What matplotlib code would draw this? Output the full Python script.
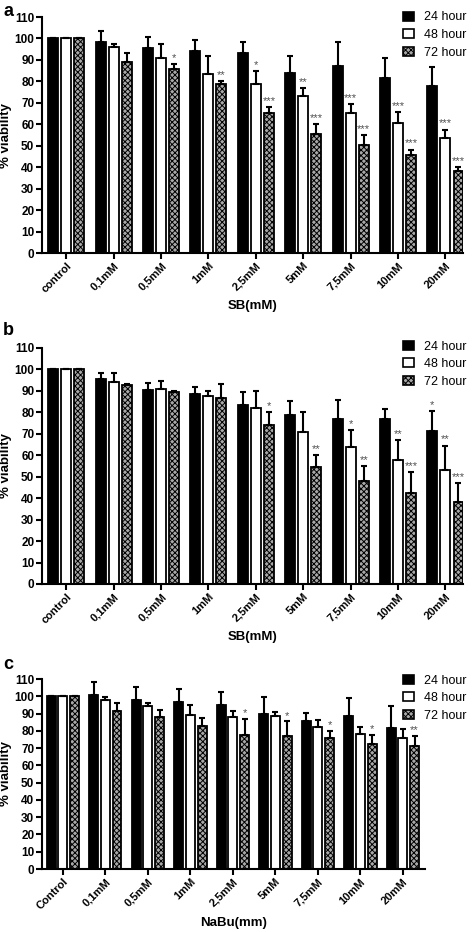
import numpy as np
import matplotlib
matplotlib.use("Agg")
import matplotlib.pyplot as plt
from matplotlib.patches import Patch

plt.rcParams['font.family'] = ['Liberation Sans', 'DejaVu Sans']
plt.rcParams['hatch.linewidth'] = 0.7

sb_labels = ['control', '0,1mM', '0,5mM', '1mM', '2,5mM', '5mM', '7,5mM', '10mM', '20mM']
nabu_labels = ['Control', '0,1mM', '0,5mM', '1mM', '2,5mM', '5mM', '7,5mM', '10mM', '20mM']
series_names = ['24 hour', '48 hour', '72 hour']

# panel a (SB)
a_24 = [100, 98.4, 95.7, 94.3, 93.4, 83.9, 87.2, 81.7, 78.0]
a_24_err = [0, 5.0, 4.9, 5.1, 5.1, 8.1, 11.3, 9.3, 8.6]
a_48 = [100, 95.8, 90.7, 83.3, 78.6, 73.2, 65.4, 60.8, 53.8]
a_48_err = [0, 1.6, 6.7, 8.3, 6.2, 3.6, 3.9, 4.9, 3.7]
a_72 = [100, 89.1, 85.6, 78.6, 65.1, 55.5, 50.5, 45.9, 38.2]
a_72_err = [0, 4.2, 2.5, 1.6, 2.9, 4.6, 4.5, 2.3, 1.9]
a_stars_24 = ['', '', '', '', '', '', '', '', '']
a_stars_48 = ['', '', '', '', '*', '**', '***', '***', '***']
a_stars_72 = ['', '', '*', '**', '***', '***', '***', '***', '***']

# panel b (SB)
b_24 = [100, 95.7, 90.2, 88.7, 83.6, 78.7, 77.1, 77.1, 71.5]
b_24_err = [0, 2.6, 3.3, 3.3, 5.8, 6.7, 8.5, 4.4, 9.1]
b_48 = [100, 94.1, 90.7, 87.4, 82.2, 70.7, 63.7, 57.7, 53.2]
b_48_err = [0, 4.2, 4.0, 2.5, 7.8, 9.6, 8.1, 9.4, 11.3]
b_72 = [100, 92.6, 89.3, 86.6, 74.3, 54.6, 47.9, 42.5, 38.0]
b_72_err = [0, 0.5, 0.7, 6.4, 6.0, 5.4, 7.1, 9.5, 9.1]
b_stars_24 = ['', '', '', '', '', '', '', '', '*']
b_stars_48 = ['', '', '', '', '', '', '*', '**', '**']
b_stars_72 = ['', '', '', '', '*', '**', '**', '***', '***']

# panel c (NaBu)
c_24 = [100, 100.5, 97.9, 96.5, 94.8, 89.6, 85.7, 88.3, 81.9]
c_24_err = [0, 7.5, 7.5, 7.7, 7.9, 10.0, 4.6, 10.5, 12.4]
c_48 = [100, 97.7, 94.4, 89.1, 87.9, 88.6, 82.3, 78.2, 75.7]
c_48_err = [0, 1.8, 1.9, 5.7, 3.4, 2.2, 4.2, 4.1, 5.1]
c_72 = [100, 91.5, 87.9, 82.7, 77.5, 76.9, 75.8, 72.3, 71.2]
c_72_err = [0, 4.8, 4.4, 4.8, 9.2, 8.5, 4.0, 5.2, 5.8]
c_stars_24 = ['', '', '', '', '', '', '', '', '']
c_stars_48 = ['', '', '', '', '', '', '', '', '']
c_stars_72 = ['', '', '', '', '*', '*', '*', '*', '**']

hatch_face = '#a8a8a8'


def draw_panel(ax, labels, vals, errs, stars, xlabel, xlim, axw):
    x = np.arange(len(labels))
    w = 0.21
    step = 0.275
    styles = [dict(color='black', edgecolor='black'),
              dict(color='white', edgecolor='black'),
              dict(color=hatch_face, edgecolor='black', hatch='xxxxxx')]
    for i in range(3):
        xs = x + (i - 1) * step
        ax.bar(xs, vals[i], w, linewidth=1.3, zorder=2, **styles[i])
        e = np.array(errs[i])
        ax.errorbar(xs, vals[i], yerr=[np.zeros_like(e), e], fmt='none',
                    ecolor='black', elinewidth=1.5, capsize=2.2, capthick=1.5, zorder=3)
        for xi, v, ei, s in zip(xs, vals[i], e, stars[i]):
            if s:
                ax.text(xi, v + ei + 0.5, s, ha='center', va='bottom',
                        fontsize=8, color='#505050')
    ax.set_xlim(*xlim)
    ax.set_ylim(0, 110)
    ax.set_yticks(np.arange(0, 111, 10))
    ax.set_xticks(x)
    ax.set_xticklabels(labels, rotation=45, ha='right', rotation_mode='anchor',
                       fontsize=8, fontweight='bold')
    for t in ax.get_yticklabels():
        t.set_fontweight('bold')
        t.set_fontsize(8.5)
    ax.spines['top'].set_visible(False)
    ax.spines['right'].set_visible(False)
    ax.spines['left'].set_linewidth(1.5)
    ax.spines['bottom'].set_linewidth(1.5)
    ax.tick_params(direction='out', width=1.5, length=4, pad=1.5)
    ax.set_ylabel('% viability', fontsize=9.5, fontweight='bold')
    ax.yaxis.set_label_coords(-30.0 / axw, 0.5)
    ax.set_xlabel(xlabel, fontsize=9.5, fontweight='bold', labelpad=4)


fig = plt.figure(figsize=(4.72, 9.32), dpi=100)
W, H = 472.0, 932.0


def add_axes(left, right, top, bottom):
    return fig.add_axes([left / W, 1 - bottom / H, (right - left) / W, (bottom - top) / H])


ax_a = add_axes(42, 463, 17, 253)
ax_b = add_axes(42, 463, 348, 584)
ax_c = add_axes(42, 425, 679, 869)

draw_panel(ax_a, sb_labels, [a_24, a_48, a_72], [a_24_err, a_48_err, a_72_err],
           [a_stars_24, a_stars_48, a_stars_72], 'SB(mM)', (-0.51, 8.37), 421)
draw_panel(ax_b, sb_labels, [b_24, b_48, b_72], [b_24_err, b_48_err, b_72_err],
           [b_stars_24, b_stars_48, b_stars_72], 'SB(mM)', (-0.51, 8.37), 421)
draw_panel(ax_c, nabu_labels, [c_24, c_48, c_72], [c_24_err, c_48_err, c_72_err],
           [c_stars_24, c_stars_48, c_stars_72], 'NaBu(mm)', (-0.49, 8.52), 383)

handles = [Patch(facecolor='black', edgecolor='black', linewidth=1.2),
           Patch(facecolor='white', edgecolor='black', linewidth=1.2),
           Patch(facecolor=hatch_face, edgecolor='black', hatch='xxxxxx', linewidth=1.2)]
for ytop in [9, 338, 672]:
    fig.legend(handles, series_names, loc='upper left',
               bbox_to_anchor=(400 / W, 1 - ytop / H), frameon=False,
               fontsize=9, handlelength=0.9, handleheight=0.7,
               handletextpad=0.8, labelspacing=0.45, borderpad=0.2,
               borderaxespad=0)

for lab, ytop in [('a', 3), ('b', 322), ('c', 656)]:
    fig.text(3 / W, 1 - ytop / H, lab, fontsize=13, fontweight='bold', va='top', ha='left')

fig.savefig('out.png', dpi=100)
